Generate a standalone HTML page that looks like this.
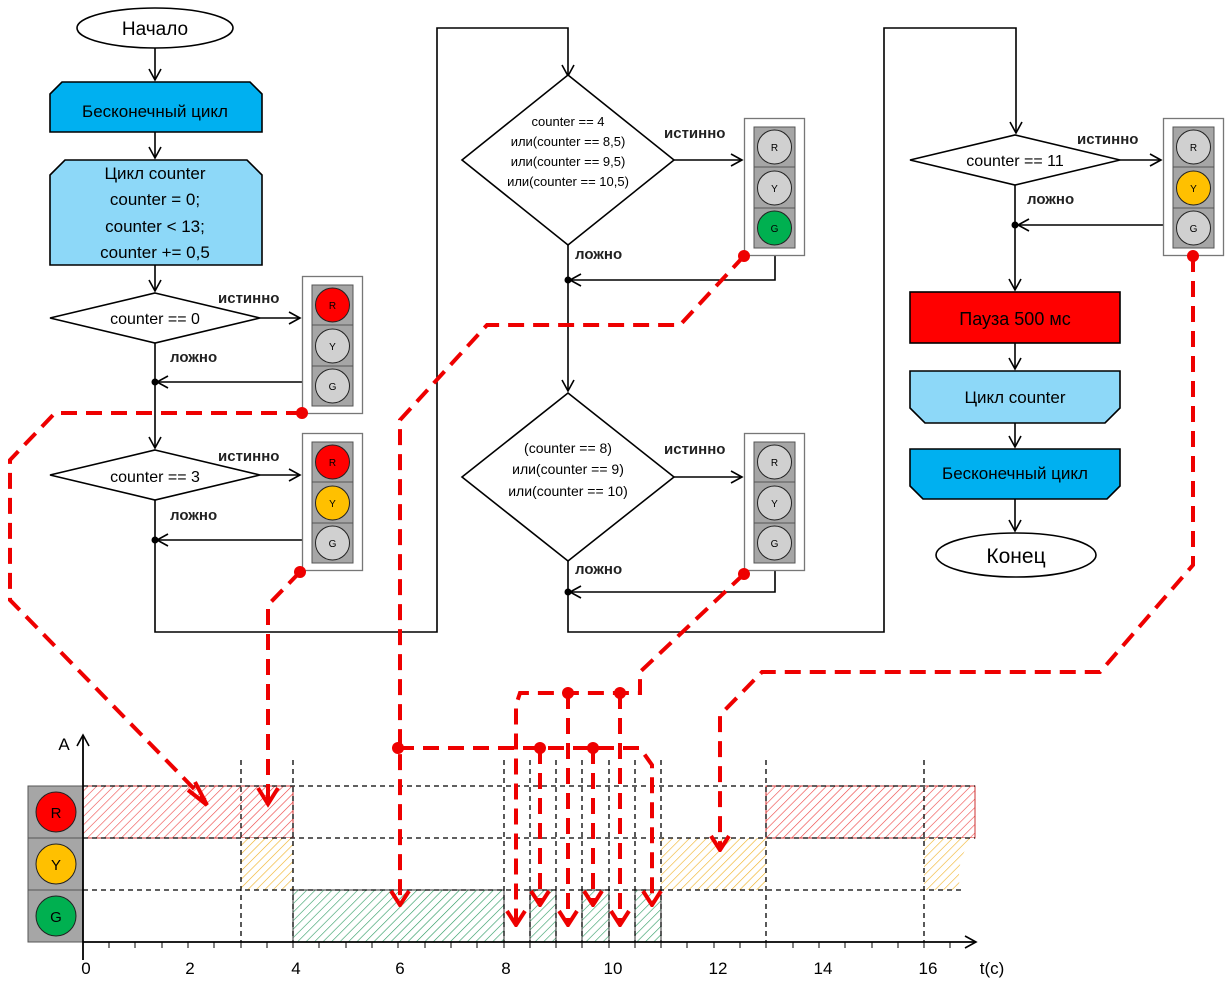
<!DOCTYPE html>
<html><head><meta charset="utf-8"><style>body{margin:0;background:#fff}svg{display:block}text{font-family:"Liberation Sans",sans-serif}</style></head><body>
<svg width="1227" height="992" viewBox="0 0 1227 992" xmlns="http://www.w3.org/2000/svg">
<defs>
<marker id="ar" markerWidth="14" markerHeight="14" refX="12" refY="7" orient="auto" markerUnits="userSpaceOnUse"><path d="M1,1 L12,7 L1,13" fill="none" stroke="#000" stroke-width="1.6"/></marker>
<marker id="rr" markerWidth="24" markerHeight="24" refX="12" refY="22" orient="0" markerUnits="userSpaceOnUse"><path d="M3,8 L12,22 L21,8" fill="none" stroke="#e00" stroke-width="4"/></marker>
<pattern id="hr" width="6" height="6" patternUnits="userSpaceOnUse" patternTransform="rotate(45)"><rect width="6" height="6" fill="#fff"/><line x1="0" y1="0" x2="0" y2="6" stroke="#e44" stroke-width="1.2"/></pattern>
<pattern id="hy" width="6" height="6" patternUnits="userSpaceOnUse" patternTransform="rotate(45)"><rect width="6" height="6" fill="#fff"/><line x1="0" y1="0" x2="0" y2="6" stroke="#f0b020" stroke-width="1.2"/></pattern>
<pattern id="hg" width="6" height="6" patternUnits="userSpaceOnUse" patternTransform="rotate(45)"><rect width="6" height="6" fill="#fff"/><line x1="0" y1="0" x2="0" y2="6" stroke="#2a9a60" stroke-width="1.2"/></pattern>
<g id="tl">
<rect x="0.5" y="0.5" width="60" height="137" fill="#fff" stroke="#777" stroke-width="1.3"/>
<rect x="10" y="9" width="41" height="121" fill="#a6a6a6" stroke="#555"/>
<line x1="10" y1="49" x2="51" y2="49" stroke="#555"/><line x1="10" y1="90" x2="51" y2="90" stroke="#555"/>
</g>
</defs>

<!-- flowchart column 1 -->
<g fill="none" stroke="#000" stroke-width="1.6">
<ellipse cx="155" cy="28" rx="78" ry="20" fill="#fff"/>
<line x1="155" y1="48" x2="155" y2="80" marker-end="url(#ar)"/>
<path d="M62,82 L250,82 L262,94 L262,132 L50,132 L50,94 Z" fill="#00b0f0"/>
<line x1="155" y1="132" x2="155" y2="158" marker-end="url(#ar)"/>
<path d="M65,160 L247,160 L262,175 L262,265 L50,265 L50,175 Z" fill="#8dd8f8"/>
<line x1="155" y1="265" x2="155" y2="291" marker-end="url(#ar)"/>
<path d="M155,293 L260,318 L155,343 L50,318 Z" fill="#fff"/>
<line x1="260" y1="318" x2="300" y2="318" marker-end="url(#ar)"/>
<line x1="155" y1="343" x2="155" y2="448" marker-end="url(#ar)"/>
<line x1="302" y1="382" x2="157" y2="382" marker-end="url(#ar)"/>
<path d="M155,450 L260,475 L155,500 L50,475 Z" fill="#fff"/>
<line x1="260" y1="475" x2="300" y2="475" marker-end="url(#ar)"/>
<line x1="302" y1="540" x2="157" y2="540" marker-end="url(#ar)"/>
<path d="M155,500 L155,632 L437,632 L437,28 L568,28 L568,76" marker-end="url(#ar)"/>
<!-- column 2 -->
<path d="M568,75 L674,160 L568,245 L462,160 Z" fill="#fff"/>
<line x1="674" y1="160" x2="742" y2="160" marker-end="url(#ar)"/>
<path d="M775,256 L775,280 L570,280" marker-end="url(#ar)"/>
<line x1="568" y1="245" x2="568" y2="391" marker-end="url(#ar)"/>
<path d="M568,393 L674,477 L568,561 L462,477 Z" fill="#fff"/>
<line x1="674" y1="477" x2="742" y2="477" marker-end="url(#ar)"/>
<path d="M775,570 L775,592 L570,592" marker-end="url(#ar)"/>
<path d="M568,561 L568,632 L884,632 L884,28 L1016,28 L1016,133" marker-end="url(#ar)"/>
<!-- column 3 -->
<path d="M1015,135 L1120,160 L1015,185 L910,160 Z" fill="#fff"/>
<line x1="1120" y1="160" x2="1161" y2="160" marker-end="url(#ar)"/>
<line x1="1163" y1="225" x2="1018" y2="225" marker-end="url(#ar)"/>
<line x1="1015" y1="185" x2="1015" y2="290" marker-end="url(#ar)"/>
<rect x="910" y="292" width="210" height="51" fill="#ff0000"/>
<line x1="1015" y1="343" x2="1015" y2="369" marker-end="url(#ar)"/>
<path d="M910,371 L1120,371 L1120,408 L1105,423 L925,423 L910,408 Z" fill="#8dd8f8"/>
<line x1="1015" y1="423" x2="1015" y2="447" marker-end="url(#ar)"/>
<path d="M910,449 L1120,449 L1120,486 L1107,499 L923,499 L910,486 Z" fill="#00b0f0"/>
<line x1="1015" y1="499" x2="1015" y2="531" marker-end="url(#ar)"/>
<ellipse cx="1016" cy="555" rx="80" ry="22" fill="#fff"/>
</g>
<g fill="#000">
<circle cx="155" cy="382" r="3.5"/><circle cx="155" cy="540" r="3.5"/><circle cx="568" cy="280" r="3.5"/><circle cx="568" cy="592" r="3.5"/><circle cx="1015" cy="225" r="3.5"/>
</g>
<g font-size="19" text-anchor="middle">
<text x="155" y="35">Начало</text>
<text x="155" y="117" font-size="17">Бесконечный цикл</text>
<text x="155" y="179" font-size="17">Цикл counter</text>
<text x="155" y="205" font-size="17">counter = 0;</text>
<text x="155" y="232" font-size="17">counter &lt; 13;</text>
<text x="155" y="258" font-size="17">counter += 0,5</text>
<text x="155" y="324" font-size="16">counter == 0</text>
<text x="155" y="482" font-size="16">counter == 3</text>
<text x="568" y="126" font-size="13">counter == 4</text>
<text x="568" y="146" font-size="13">или(counter == 8,5)</text>
<text x="568" y="166" font-size="13">или(counter == 9,5)</text>
<text x="568" y="186" font-size="13">или(counter == 10,5)</text>
<text x="568" y="453" font-size="14">(counter == 8)</text>
<text x="568" y="474" font-size="14">или(counter == 9)</text>
<text x="568" y="496" font-size="14">или(counter == 10)</text>
<text x="1015" y="166" font-size="16">counter == 11</text>
<text x="1015" y="325" font-size="18">Пауза 500 мс</text>
<text x="1015" y="403" font-size="17">Цикл counter</text>
<text x="1015" y="479" font-size="17">Бесконечный цикл</text>
<text x="1016" y="563" font-size="21">Конец</text>
</g>
<g font-size="15" font-weight="bold" fill="#222">
<text x="218" y="303">истинно</text><text x="170" y="362">ложно</text>
<text x="218" y="461">истинно</text><text x="170" y="520">ложно</text>
<text x="664" y="138">истинно</text><text x="575" y="259">ложно</text>
<text x="664" y="454">истинно</text><text x="575" y="574">ложно</text>
<text x="1077" y="144">истинно</text><text x="1027" y="204">ложно</text>
</g>

<!-- traffic lights -->
<g font-size="10" text-anchor="middle" stroke-width="1">
<g transform="translate(302,276)"><use href="#tl"/>
<circle cx="30.5" cy="29" r="17" fill="#f00" stroke="#222"/><circle cx="30.5" cy="70" r="17" fill="#d0d0d0" stroke="#222"/><circle cx="30.5" cy="110" r="17" fill="#d0d0d0" stroke="#222"/>
<text x="30.5" y="33">R</text><text x="30.5" y="74">Y</text><text x="30.5" y="114">G</text></g>
<g transform="translate(302,433)"><use href="#tl"/>
<circle cx="30.5" cy="29" r="17" fill="#f00" stroke="#222"/><circle cx="30.5" cy="70" r="17" fill="#ffc000" stroke="#222"/><circle cx="30.5" cy="110" r="17" fill="#d0d0d0" stroke="#222"/>
<text x="30.5" y="33">R</text><text x="30.5" y="74">Y</text><text x="30.5" y="114">G</text></g>
<g transform="translate(744,118)"><use href="#tl"/>
<circle cx="30.5" cy="29" r="17" fill="#d0d0d0" stroke="#222"/><circle cx="30.5" cy="70" r="17" fill="#d0d0d0" stroke="#222"/><circle cx="30.5" cy="110" r="17" fill="#00b050" stroke="#222"/>
<text x="30.5" y="33">R</text><text x="30.5" y="74">Y</text><text x="30.5" y="114">G</text></g>
<g transform="translate(744,433)"><use href="#tl"/>
<circle cx="30.5" cy="29" r="17" fill="#d0d0d0" stroke="#222"/><circle cx="30.5" cy="70" r="17" fill="#d0d0d0" stroke="#222"/><circle cx="30.5" cy="110" r="17" fill="#d0d0d0" stroke="#222"/>
<text x="30.5" y="33">R</text><text x="30.5" y="74">Y</text><text x="30.5" y="114">G</text></g>
<g transform="translate(1163,118)"><use href="#tl"/>
<circle cx="30.5" cy="29" r="17" fill="#d0d0d0" stroke="#222"/><circle cx="30.5" cy="70" r="17" fill="#ffc000" stroke="#222"/><circle cx="30.5" cy="110" r="17" fill="#d0d0d0" stroke="#222"/>
<text x="30.5" y="33">R</text><text x="30.5" y="74">Y</text><text x="30.5" y="114">G</text></g>
</g>

<!-- timing chart -->
<g stroke="#333" stroke-width="1">
<rect x="83" y="786" width="210" height="52" fill="url(#hr)" stroke="#c33"/>
<rect x="766" y="786" width="209" height="52" fill="url(#hr)" stroke="#c33"/>
<rect x="241" y="838" width="52" height="52" fill="url(#hy)" stroke="none"/>
<rect x="661" y="838" width="105" height="52" fill="url(#hy)" stroke="none"/>
<path d="M924,838 L975,838 Q955,855 960,890 L924,890 Z" fill="url(#hy)" stroke="none"/>
<rect x="293" y="890" width="211" height="52" fill="url(#hg)"/>
<rect x="530" y="890" width="26" height="52" fill="url(#hg)"/>
<rect x="582" y="890" width="27" height="52" fill="url(#hg)"/>
<rect x="635" y="890" width="26" height="52" fill="url(#hg)"/>
</g>
<rect x="28" y="786" width="55" height="156" fill="#a6a6a6" stroke="#555"/>
<line x1="28" y1="838" x2="83" y2="838" stroke="#555"/><line x1="28" y1="890" x2="83" y2="890" stroke="#555"/>
<g stroke="#222"><circle cx="56" cy="812" r="20" fill="#f00"/><circle cx="56" cy="864" r="20" fill="#ffc000"/><circle cx="56" cy="916" r="20" fill="#00b050"/></g>
<g font-size="15" text-anchor="middle"><text x="56" y="818">R</text><text x="56" y="870">Y</text><text x="56" y="922">G</text></g>
<g stroke="#000" stroke-width="1.3" stroke-dasharray="5,4" fill="none">
<line x1="83" y1="786" x2="975" y2="786"/><line x1="83" y1="838" x2="975" y2="838"/><line x1="83" y1="890" x2="965" y2="890"/>
<line x1="241" y1="760" x2="241" y2="942"/><line x1="293" y1="760" x2="293" y2="942"/>
<line x1="504" y1="760" x2="504" y2="942"/><line x1="530" y1="760" x2="530" y2="942"/><line x1="556" y1="760" x2="556" y2="942"/>
<line x1="582" y1="760" x2="582" y2="942"/><line x1="609" y1="760" x2="609" y2="942"/><line x1="635" y1="760" x2="635" y2="942"/>
<line x1="661" y1="760" x2="661" y2="942"/><line x1="766" y1="760" x2="766" y2="942"/><line x1="924" y1="760" x2="924" y2="942"/>
</g>
<g stroke="#000" stroke-width="1.8" fill="none">
<line x1="83" y1="960" x2="83" y2="735" marker-end="url(#ar)"/>
<line x1="83" y1="942" x2="976" y2="942" marker-end="url(#ar)"/>
</g>
<g stroke="#000" stroke-width="1">
<path d="M109,942v6M135,942v6M162,942v6M188,942v6M214,942v6M241,942v6M267,942v6M293,942v6M319,942v6M346,942v6M372,942v6M398,942v6M425,942v6M451,942v6M477,942v6M504,942v6M530,942v6M556,942v6M582,942v6M609,942v6M635,942v6M661,942v6M687,942v6M714,942v6M740,942v6M766,942v6M793,942v6M819,942v6M845,942v6M872,942v6M898,942v6M924,942v6M950,942v6"/>
</g>
<g font-size="17" text-anchor="middle">
<text x="86" y="974">0</text><text x="190" y="974">2</text><text x="296" y="974">4</text><text x="400" y="974">6</text><text x="506" y="974">8</text><text x="613" y="974">10</text><text x="718" y="974">12</text><text x="823" y="974">14</text><text x="928" y="974">16</text>
<text x="992" y="974">t(c)</text><text x="64" y="750">A</text>
</g>

<!-- red dashed connectors -->
<g stroke="#e00" stroke-width="4" stroke-dasharray="16,9" fill="none">
<path d="M302,413 L55,413 L10,460 L10,600 L205,800" />
<path d="M300,572 L268,605 L268,800"/>
<path d="M744,256 L680,325 L487,325 L400,420 L400,905" marker-end="url(#rr)"/>
<path d="M398,748 L640,748 L652,765 L652,905" marker-end="url(#rr)"/>
<path d="M540,748 L540,905" marker-end="url(#rr)"/>
<path d="M593,748 L593,905" marker-end="url(#rr)"/>
<path d="M744,574 L640,672 L640,693 L520,693 L516,705 L516,925" marker-end="url(#rr)"/>
<path d="M568,693 L568,925" marker-end="url(#rr)"/>
<path d="M620,693 L620,925" marker-end="url(#rr)"/>
<path d="M1193,256 L1193,565 L1100,672 L762,672 L720,715 L720,850" marker-end="url(#rr)"/>
</g>
<g stroke="#e00" stroke-width="4" fill="none">
<path d="M188,790 L207,805 L195,782"/>
<path d="M258,788 L268,804 L278,788"/>
</g>
<g fill="#e00">
<circle cx="302" cy="413" r="6"/><circle cx="300" cy="572" r="6"/><circle cx="744" cy="256" r="6"/><circle cx="744" cy="574" r="6"/><circle cx="1193" cy="256" r="6"/>
<circle cx="398" cy="748" r="6"/><circle cx="540" cy="748" r="6"/><circle cx="593" cy="748" r="6"/><circle cx="568" cy="693" r="6"/><circle cx="620" cy="693" r="6"/>
</g>
</svg>
</body></html>
